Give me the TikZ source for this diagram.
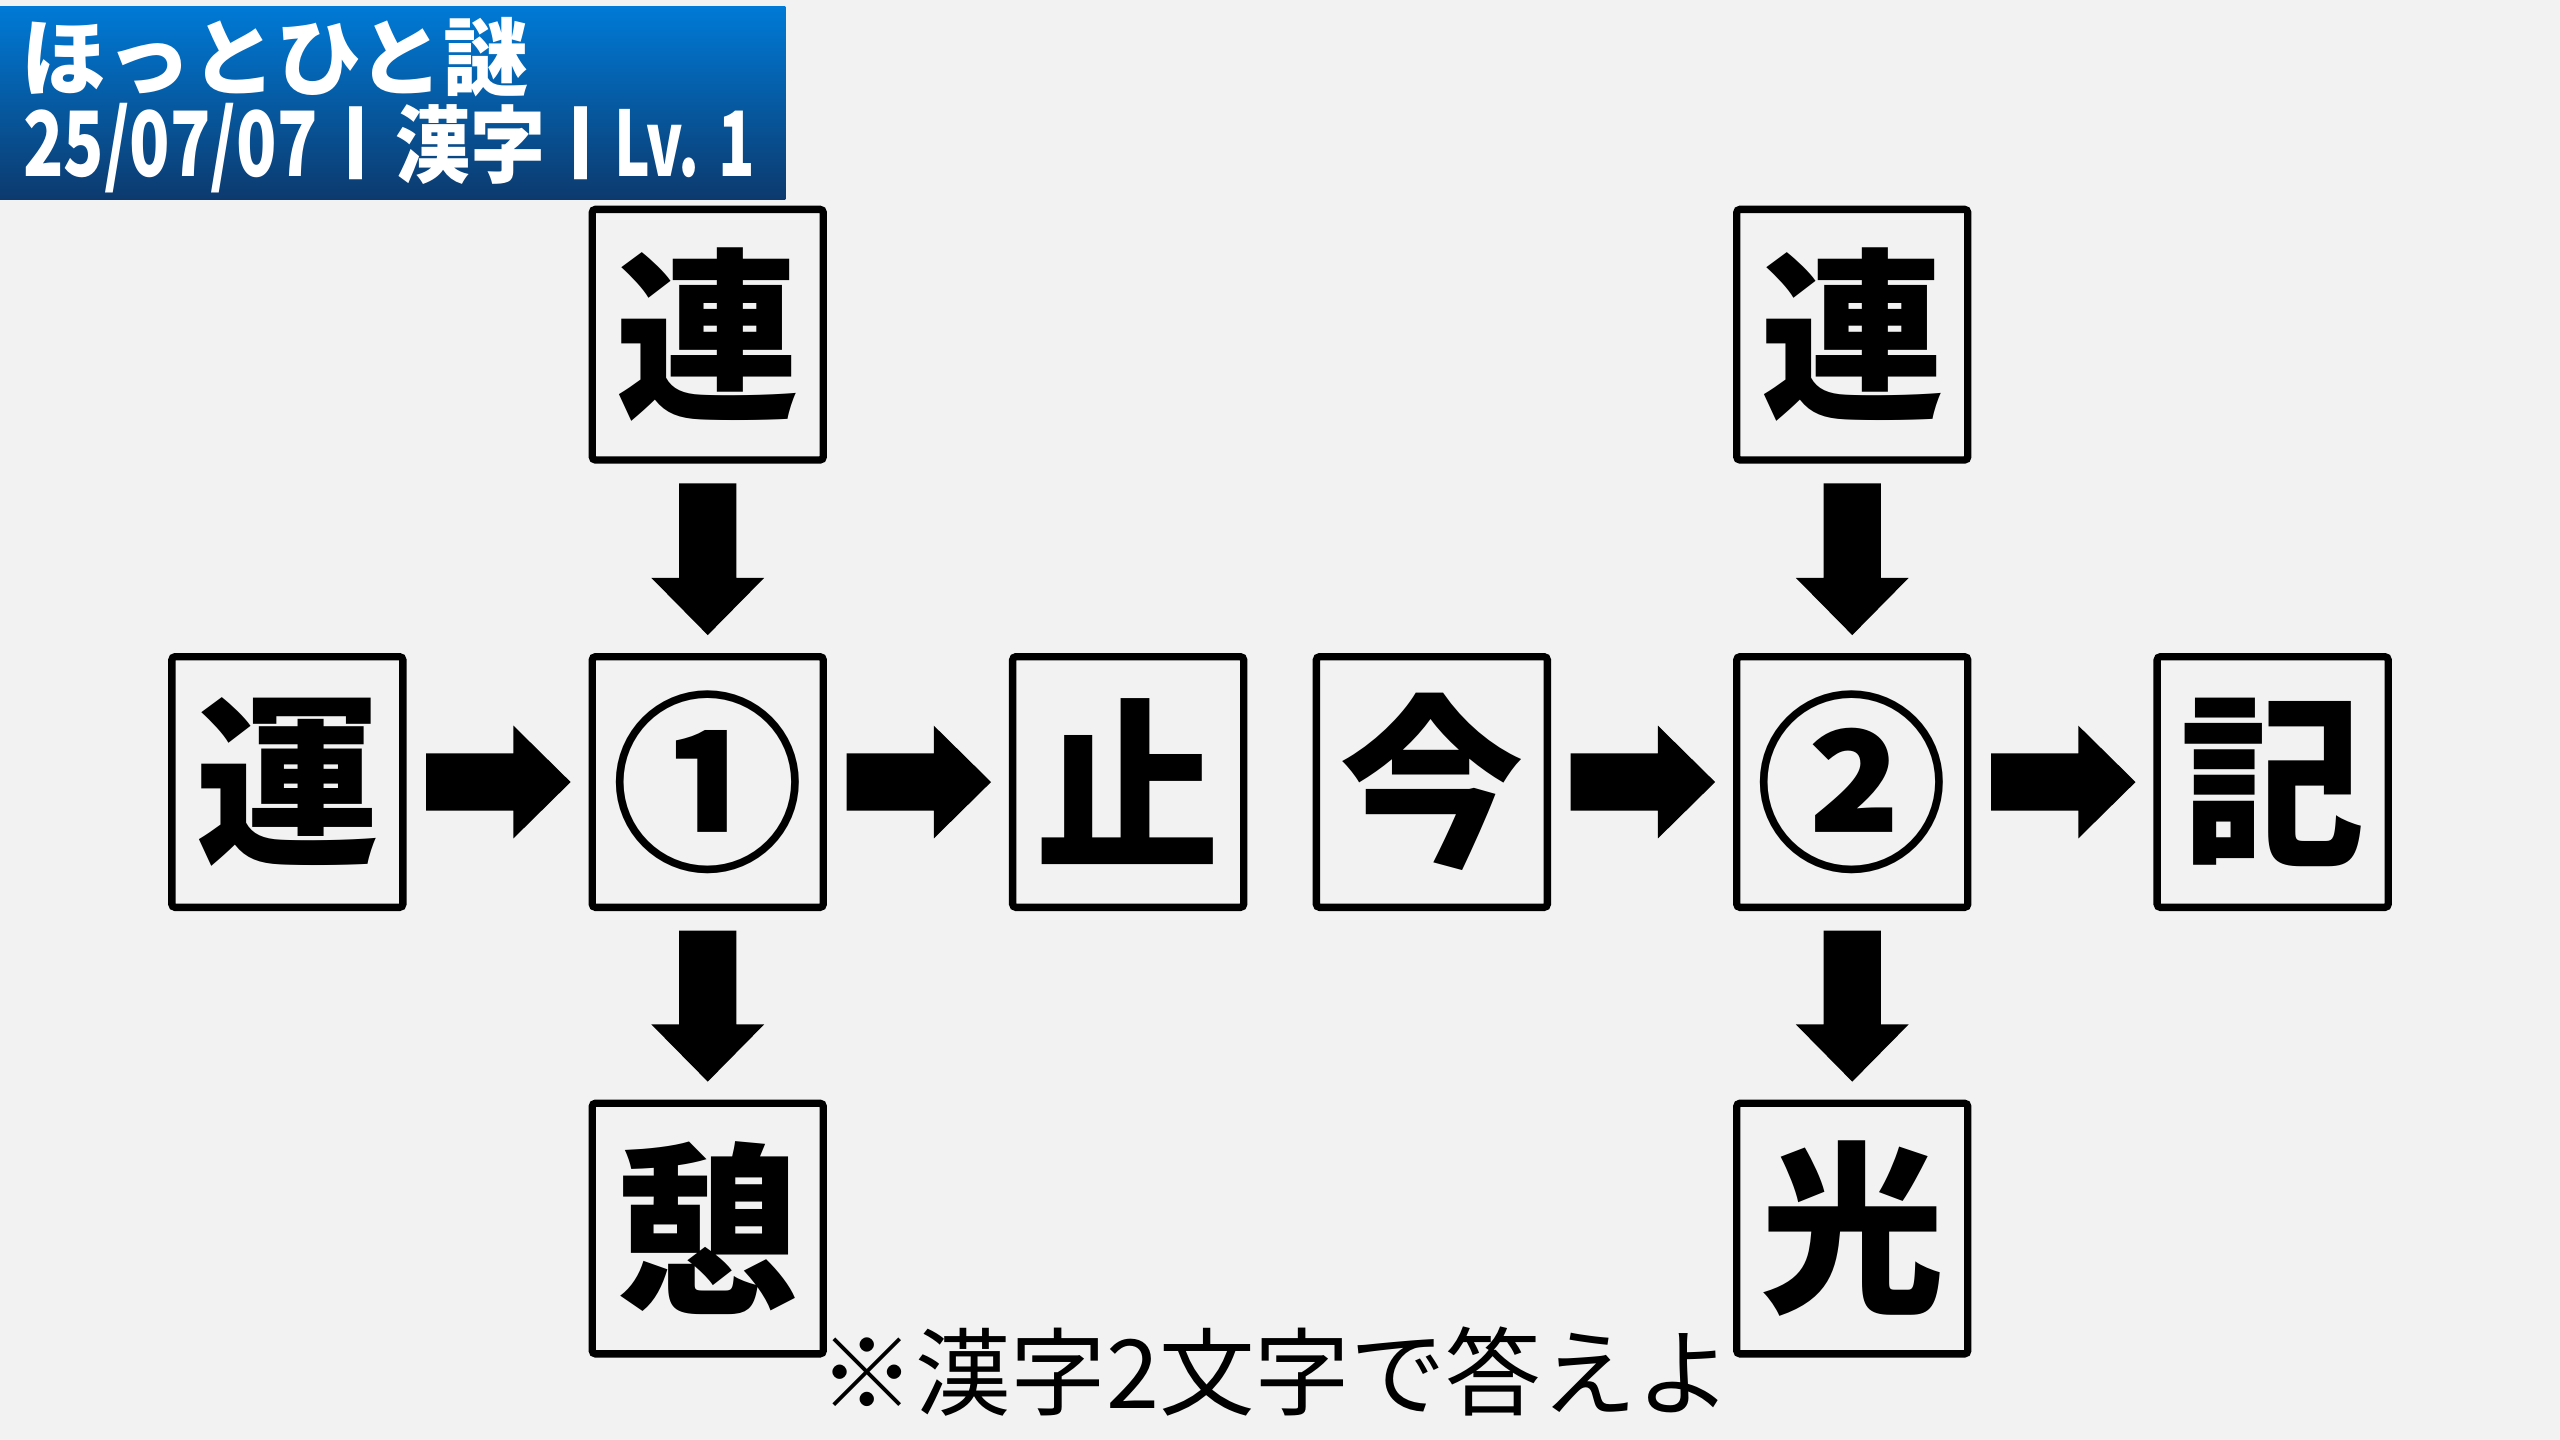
\documentclass[tikz,border=0pt]{standalone}
\usepackage{fontspec}
\newfontfamily\cjk{Noto Sans CJK JP}
\usetikzlibrary{calc}
\definecolor{bg}{RGB}{242,242,242}
\definecolor{hdtop}{RGB}{0,122,214}
\definecolor{hdbot}{RGB}{12,58,110}
\newcommand{\harrow}[2]{%
  \fill[blockarrow] let \p1=($(#1.east)+(12,0)$), \p2=($(#2.west)+(-11,0)$) in
    (\x1,\y1+17.5pt) -- (\x2-35pt,\y1+17.5pt) -- (\x2-35pt,\y1+34.5pt) -- (\x2,\y1)
    -- (\x2-35pt,\y1-34.5pt) -- (\x2-35pt,\y1-17.5pt) -- (\x1,\y1-17.5pt) -- cycle;}
\newcommand{\varrow}[2]{%
  \fill[blockarrow] let \p1=($(#1.south)+(0,12)$), \p2=($(#2.north)+(0,-11)$) in
    (\x1-17.5pt,\y1) -- (\x1+17.5pt,\y1) -- (\x1+17.5pt,\y2+35pt) -- (\x1+34.5pt,\y2+35pt)
    -- (\x1,\y2) -- (\x1-34.5pt,\y2+35pt) -- (\x1-17.5pt,\y2+35pt) -- cycle;}
\newcommand{\hdrbar}{\raisebox{9pt}{\scalebox{1.5}[0.85]{|}}}
\begin{document}
\begin{tikzpicture}[x=1pt,y=-1pt,
  kbox/.style={draw=black, line width=4.5pt, fill=bg, minimum width=141.5pt, minimum height=153.5pt,
    inner sep=0pt, rounded corners=2pt, font=\cjk\bfseries\fontsize{113pt}{113pt}\selectfont},
  numbox/.style={kbox, font=\cjk\bfseries\fontsize{118pt}{118pt}\selectfont},
  blockarrow/.style={fill=black},
  hdrtitle/.style={anchor=west, text=white, inner sep=0pt, font=\cjk\bfseries\fontsize{52pt}{52pt}\selectfont},
  hdrsub/.style={anchor=base west, text=white, inner sep=0pt, font=\cjk\bfseries\fontsize{46pt}{46pt}\selectfont},
  note/.style={inner sep=0pt, font=\cjk\fontsize{58.5pt}{58.5pt}\selectfont}]
\useasboundingbox (0,0) rectangle (1568,882);
\fill[bg] (0,0) rectangle (1568,882);
% header
\shade[top color=hdtop, bottom color=hdbot] (0,4) rectangle (481,122);
\node[hdrtitle] (title) at (13,35) {ほっとひと謎};
\node[hdrsub] (sub) at (14,108) {\scalebox{0.886}[1.2]{25/07/07}\hspace{13pt}\hdrbar\hspace{13pt}\scalebox{1}[1.12]{漢字}\hspace{11pt}\hdrbar\hspace{10pt}\scalebox{0.8}[1.2]{Lv. 1}};
% boxes
\node[kbox] (c1) at (433.5,205) {連};
\node[kbox] (a) at (176,479) {運};
\node[numbox] (n1) at (433.5,479) {①};
\node[kbox] (s) at (691,479) {止};
\node[kbox] (k) at (433.5,752.5) {憩};
\node[kbox] (i) at (877,479) {今};
\node[numbox] (n2) at (1134.5,479) {②};
\node[kbox] (ki) at (1392,479) {記};
\node[kbox] (c2) at (1134.5,205) {連};
\node[kbox] (h) at (1134.5,752.5) {光};
% arrows
\varrow{c1}{n1}
\harrow{a}{n1}
\harrow{n1}{s}
\varrow{n1}{k}
\varrow{c2}{n2}
\harrow{i}{n2}
\harrow{n2}{ki}
\varrow{n2}{h}
% note
\node[note] (q) at (781.5,840) {※漢字2文字で答えよ};
\end{tikzpicture}
\end{document}
